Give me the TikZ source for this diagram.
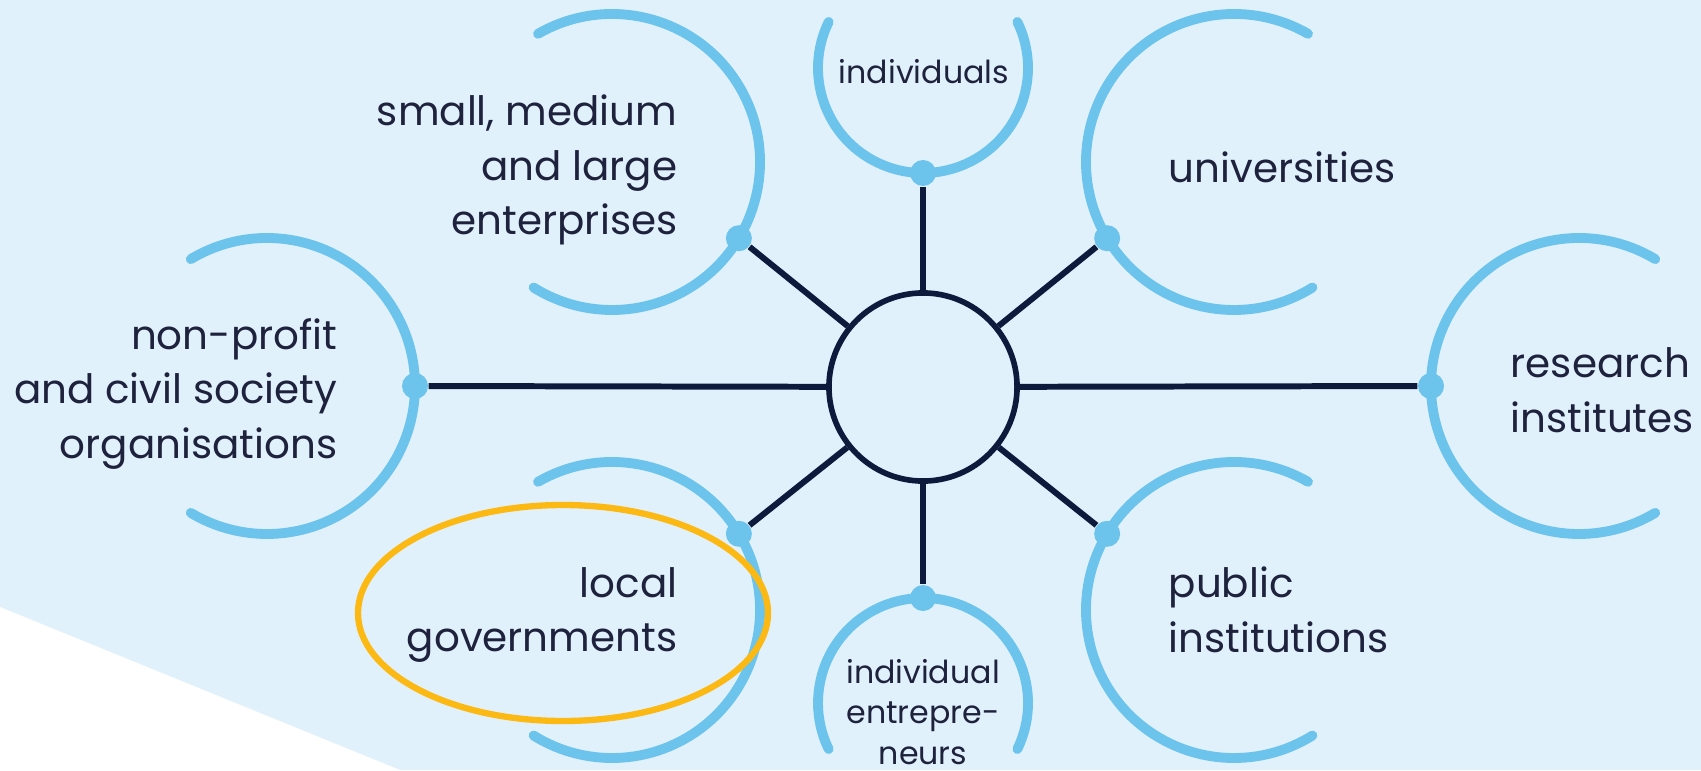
\documentclass[tikz,border=0pt]{standalone}
\usepackage{fontspec}
\setmainfont{Poppins}
\usetikzlibrary{calc}
\definecolor{bgblue}{RGB}{224,241,252}
\definecolor{arcblue}{RGB}{108,196,236}
\definecolor{navy}{RGB}{14,26,60}
\definecolor{txtcol}{RGB}{30,34,60}
\definecolor{hilite}{RGB}{253,185,19}
\begin{document}
\begin{tikzpicture}[x=0.01cm,y=0.01cm,
  arcline/.style={draw=arcblue,line width=2.8pt,line cap=round},
  spoke/.style={draw=navy,line width=1.7pt},
  dotnode/.style={circle,fill=arcblue,inner sep=0pt,minimum size=0.26cm},
  lbl/.style={text=txtcol,font=\fontsize{11.5}{15.6}\selectfont,inner sep=0pt},
  smalllbl/.style={text=txtcol,font=\fontsize{9}{11.4}\selectfont,inner sep=0pt,align=center}]
\useasboundingbox (0,0) rectangle (1701,-770);
\fill[bgblue] (0,0) rectangle (1701,-770);
\fill[white] (0,-607) -- (400,-770) -- (0,-770) -- cycle;

% arc centres
\coordinate (cNP) at (267,-386);
\coordinate (cRI) at (1579,-386);
\coordinate (cSME) at (612,-162);
\coordinate (cUN) at (1234,-162);
\coordinate (cLG) at (612,-610);
\coordinate (cPI) at (1234,-610);
\coordinate (cIN) at (923,-68);
\coordinate (cIE) at (923,-703);

% arcs
\draw[arcline] ($(cNP)+(121:148)$) arc[start angle=121,end angle=-121,radius=148];
\draw[arcline] ($(cRI)+(59:148)$) arc[start angle=59,end angle=301,radius=148];
\draw[arcline] ($(cSME)+(120:148)$) arc[start angle=120,end angle=-122,radius=148];
\draw[arcline] ($(cLG)+(120:148)$) arc[start angle=120,end angle=-122,radius=148];
\draw[arcline] ($(cUN)+(60:148)$) arc[start angle=60,end angle=302,radius=148];
\draw[arcline] ($(cPI)+(60:148)$) arc[start angle=60,end angle=302,radius=148];
\draw[arcline] ($(cIN)+(154:105)$) arc[start angle=154,end angle=386,radius=105];
\draw[arcline] ($(cIE)+(-26:105)$) arc[start angle=-26,end angle=206,radius=105];

% hub
\node[circle,draw=navy,line width=1.6pt,fill=bgblue,minimum size=1.88cm,inner sep=0pt] (hub) at (923,-387) {};

% dots
\node[dotnode] (dNP) at ($(cNP)+(0:148)$) {};
\node[dotnode] (dRI) at ($(cRI)+(180:148)$) {};
\node[dotnode] (dSME) at ($(cSME)+(-31:148)$) {};
\node[dotnode] (dLG) at ($(cLG)+(31:148)$) {};
\node[dotnode] (dUN) at ($(cUN)+(211:148)$) {};
\node[dotnode] (dPI) at ($(cPI)+(149:148)$) {};
\node[dotnode] (dIN) at ($(cIN)+(270:105)$) {};
\node[dotnode] (dIE) at ($(cIE)+(90:105)$) {};

% spokes
\foreach \d in {dNP,dRI,dSME,dLG,dUN,dPI,dIN,dIE}
  \draw[spoke] (hub) -- (\d);

% labels
\node[lbl,align=right,anchor=east] (tSME) at (678,-170) {small, medium\\and large\\enterprises};
\node[lbl,align=right,anchor=east] (tNP) at (338,-394) {non-profit\\and civil society\\organisations};
\node[lbl,align=right,anchor=east] (tLG) at (678,-615) {local\\governments};
\node[lbl,align=left,anchor=west] (tRI) at (1510,-390) {research\\institutes};
\node[lbl,anchor=west] (tUN) at (1168,-167) {universities};
\node[lbl,align=left,anchor=west] (tPI) at (1168,-610) {public\\institutions};
\node[smalllbl] (tIN) at (924,-72) {individuals};
\node[smalllbl] (tIE) at (923,-712) {individual\\entrepre-\\neurs};

% highlight
\draw[hilite,line width=1.8pt] (563,-613) ellipse [x radius=205,y radius=108];
\end{tikzpicture}
\end{document}
